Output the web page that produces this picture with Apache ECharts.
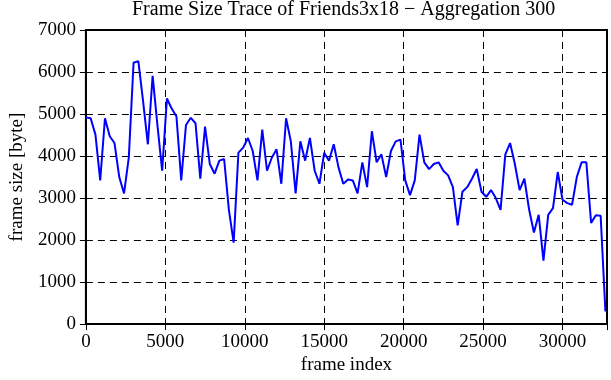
<!DOCTYPE html>
<html>
<head>
<meta charset="utf-8">
<script src="https://cdn.jsdelivr.net/npm/echarts@6/dist/echarts.min.js"></script>
<style>
html,body{margin:0;padding:0;background:#fff;}
#c{width:611px;height:380px;}
</style>
</head>
<body>
<div id="c"></div>
<script>
const titleText = 'Frame Size Trace of Friends3x18 \u2212 Aggregation 300';
const xName = 'frame index';
const yName = 'frame size [byte]';
const aggregation = 300;
const xTicks = [0, 5000, 10000, 15000, 20000, 25000, 30000];
const yTicks = [0, 1000, 2000, 3000, 4000, 5000, 6000, 7000];
const frameSize = [
  4920, 4900, 4510, 3420, 4900, 4470, 4310, 3500, 3110, 3960,
  6220, 6260, 5300, 4280, 5910, 4740, 3650, 5370, 5130, 4940,
  3420, 4740, 4910, 4780, 3460, 4700, 3810, 3580, 3890, 3930,
  2720, 1940, 4080, 4200, 4430, 4120, 3420, 4630, 3650, 3960,
  4160, 3340, 4900, 4350, 3110, 4350, 3890, 4430, 3650, 3340,
  4080, 3890, 4280, 3730, 3340, 3440, 3420, 3110, 3850, 3260,
  4590, 3850, 4040, 3500, 4120, 4350, 4390, 3420, 3070, 3420,
  4510, 3850, 3690, 3810, 3850, 3650, 3540, 3260, 2350, 3150,
  3260, 3460, 3690, 3150, 3030, 3190, 3000, 2720, 4040, 4310,
  3810, 3190, 3460, 2720, 2180, 2600, 1510, 2600, 2760, 3620,
  2960, 2880, 2840, 3500, 3850, 3850, 2410, 2590, 2580, 300
];
const xMax = 32800;

const font = 'Liberation Serif';
const pts = frameSize.map((v, i) => [i * aggregation, v]);

const chart = echarts.init(document.getElementById('c'), null, {renderer: 'canvas'});
const dashed = {show: true, lineStyle: {color: '#000', width: 1, type: [7, 5]}};
const tickIn = {show: true, inside: true, length: 6, lineStyle: {color: '#000', width: 1}};
const xLab = v => (xTicks.indexOf(v) >= 0 ? String(v) : '');
const yLab = v => (yTicks.indexOf(v) >= 0 ? String(v) : '');

chart.setOption({
  animation: false,
  backgroundColor: '#fff',
  title: {
    text: titleText,
    left: 132, top: 0, padding: 0,
    textStyle: {fontFamily: font, fontSize: 20, fontWeight: 'normal', color: '#000'}
  },
  grid: {left: 81, right: 4, top: 30, bottom: 51, show: true, borderColor: '#000', borderWidth: 2, backgroundColor: 'transparent'},
  xAxis: [{
    type: 'value', min: 0, max: xMax, interval: 5000,
    name: xName, nameLocation: 'middle', nameGap: 31,
    nameTextStyle: {fontFamily: font, fontSize: 19, color: '#000'},
    axisLine: {show: true, onZero: false, lineStyle: {color: '#000', width: 2}},
    axisTick: tickIn,
    axisLabel: {fontFamily: font, fontSize: 19, color: '#000', margin: 8, formatter: xLab},
    splitLine: dashed
  }, {
    type: 'value', min: 0, max: xMax, interval: 5000, position: 'top',
    axisLine: {show: false}, axisTick: tickIn, axisLabel: {show: false}, splitLine: {show: false}
  }],
  yAxis: [{
    type: 'value', min: 0, max: 7000, interval: 1000,
    name: yName, nameLocation: 'middle', nameGap: 58, nameRotate: 90,
    nameTextStyle: {fontFamily: font, fontSize: 19, color: '#000'},
    axisLine: {show: true, onZero: false, lineStyle: {color: '#000', width: 2}},
    axisTick: tickIn,
    axisLabel: {fontFamily: font, fontSize: 19, color: '#000', margin: 10, formatter: yLab},
    splitLine: dashed
  }, {
    type: 'value', min: 0, max: 7000, interval: 1000, position: 'right',
    axisLine: {show: false}, axisTick: tickIn, axisLabel: {show: false}, splitLine: {show: false}
  }],
  series: [{
    type: 'line', xAxisIndex: 0, yAxisIndex: 0,
    data: pts, showSymbol: false, symbol: 'none',
    lineStyle: {color: '#0000ff', width: 2},
    z: 5
  }]
});
</script>
</body>
</html>
